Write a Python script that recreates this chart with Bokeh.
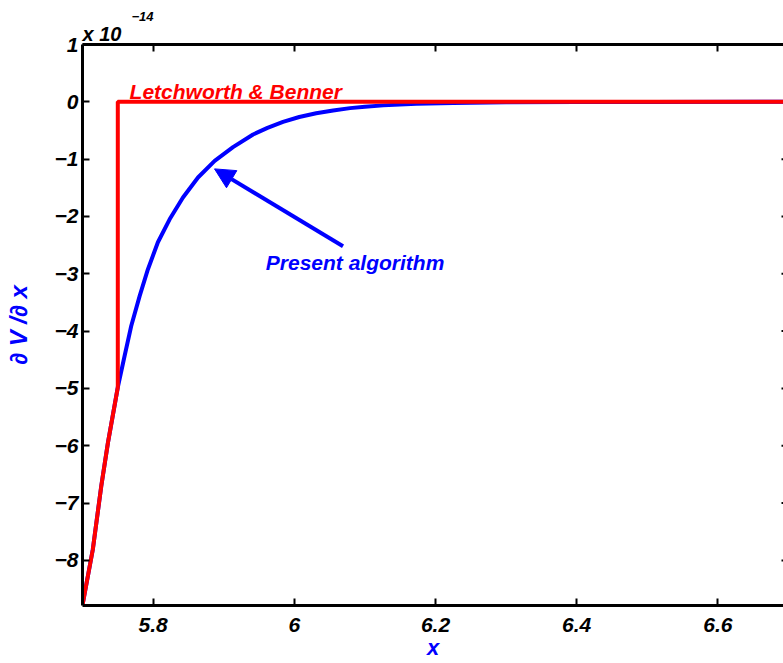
from bokeh.plotting import figure
from bokeh.models import Range1d, FixedTicker, LinearAxis, Label, Arrow, NormalHead, Title
from bokeh.embed import file_html
from bokeh.resources import INLINE

# ---- data (y in units of 1e-14) ----
red_x = [5.700, 5.7146, 5.7265, 5.736, 5.750, 5.750, 6.70]
red_y = [-8.78, -7.81, -6.71, -5.95, -4.98, 0.0, 0.0]

blue_x = [5.700, 5.7146, 5.7265, 5.736, 5.750, 5.7596, 5.769, 5.7809, 5.7927, 5.8068,
          5.8234, 5.8423, 5.8636, 5.8872, 5.9132, 5.9416, 5.962, 5.984, 6.007, 6.031,
          6.055, 6.079, 6.100, 6.126, 6.173, 6.225, 6.30, 6.40, 6.50, 6.70]
blue_y = [-8.78, -7.81, -6.71, -5.95, -4.98, -4.435, -3.91, -3.39, -2.92, -2.45,
          -2.05, -1.67, -1.32, -1.03, -0.79, -0.57, -0.455, -0.35, -0.265, -0.20,
          -0.15, -0.11, -0.085, -0.062, -0.035, -0.02, -0.008, -0.003, -0.001, 0.0]

x_ticks = [5.8, 6.0, 6.2, 6.4, 6.6]
x_tick_labels = ["5.8", "6", "6.2", "6.4", "6.6"]
y_ticks = [1, 0, -1, -2, -3, -4, -5, -6, -7, -8]
y_tick_labels = ["1", "0", "\u22121", "\u22122", "\u22123", "\u22124", "\u22125", "\u22126", "\u22127", "\u22128"]
x_end_tick = 6.7

FONT = "Liberation Sans"
RED = "#ff0000"
BLUE = "#0000ff"

p = figure(width=783, height=663, x_range=Range1d(5.7, 6.6929), y_range=Range1d(-8.787, 1.0),
           output_backend="svg", toolbar_location=None,
           min_border_left=82, min_border_right=0, min_border_top=44, min_border_bottom=58)
p.outline_line_color = None
p.xgrid.visible = False
p.ygrid.visible = False
p.background_fill_color = "white"
p.border_fill_color = "white"

def style_axis(ax):
    ax.axis_line_width = 3
    ax.axis_line_color = "black"
    ax.major_tick_in = 7
    ax.major_tick_out = 0
    ax.major_tick_line_width = 2
    ax.major_tick_line_color = "black"
    ax.minor_tick_line_color = None
    ax.major_label_text_font = FONT
    ax.major_label_text_font_style = "bold italic"
    ax.major_label_text_font_size = "21px"
    ax.major_label_text_color = "black"

xa = p.xaxis[0]
style_axis(xa)
xa.ticker = FixedTicker(ticks=x_ticks)
xa.major_label_overrides = {t: l for t, l in zip(x_ticks, x_tick_labels)}
xa.major_label_standoff = 12
xa.axis_label = "x"
xa.axis_label_text_color = BLUE
xa.axis_label_text_font = FONT
xa.axis_label_text_font_style = "bold italic"
xa.axis_label_text_font_size = "22px"
xa.axis_label_standoff = 0

ya = p.yaxis[0]
style_axis(ya)
ya.ticker = FixedTicker(ticks=y_ticks)
ya.major_label_overrides = {t: l for t, l in zip(y_ticks, y_tick_labels)}
ya.major_label_standoff = 4
ya.axis_label = "\u2202 V /\u2202 x"
ya.axis_label_text_color = BLUE
ya.axis_label_text_font = FONT
ya.axis_label_text_font_style = "bold italic"
ya.axis_label_text_font_size = "24px"
ya.axis_label_standoff = 20

top = LinearAxis(ticker=FixedTicker(ticks=x_ticks))
style_axis(top)
top.major_label_text_font_size = "0px"
top.major_label_overrides = {t: "" for t in x_ticks}
top.major_label_standoff = 0
p.add_layout(top, "above")

# multiplier text above the frame
p.add_layout(Title(text="x 10", align="left", offset=0, standoff=0,
                   text_font=FONT, text_font_style="bold italic", text_font_size="20px",
                   text_color="black"), "above")
p.add_layout(Title(text="\u221214", align="left", offset=49, standoff=0,
                   text_font=FONT, text_font_style="bold italic", text_font_size="13px",
                   text_color="black"), "above")

# right-hand ticks of the (cut off) right spine
p.segment(x0=[x_end_tick - 7 / 705] * len(y_ticks), y0=y_ticks,
          x1=[x_end_tick] * len(y_ticks), y1=y_ticks, line_color="black", line_width=2)

# curves
p.line(blue_x, blue_y, line_color=BLUE, line_width=4)
p.line(red_x, red_y, line_color=RED, line_width=4)

# annotations
p.add_layout(Label(x=5.7667, y=0.175, text="Letchworth & Benner", text_color=RED,
                   text_font=FONT, text_font_style="bold italic", text_font_size="21px",
                   text_baseline="alphabetic"))
p.add_layout(Label(x=5.9596, y=-2.80, text="Present algorithm", text_color=BLUE,
                   text_font=FONT, text_font_style="bold italic", text_font_size="21px",
                   text_baseline="alphabetic"))
p.add_layout(Arrow(x_start=6.069, y_start=-2.52, x_end=5.887, y_end=-1.17,
                   line_color=BLUE, line_width=4,
                   end=NormalHead(size=20, fill_color=BLUE, line_color=BLUE, line_width=1)))

open("out.html", "w").write(file_html(p, INLINE))
